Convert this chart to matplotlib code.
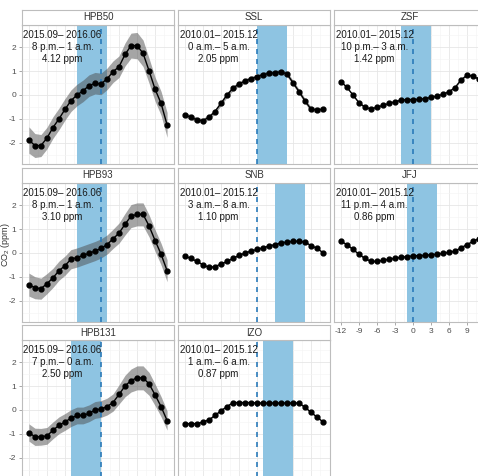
import numpy as np
import matplotlib
matplotlib.use('Agg')
from matplotlib import pyplot as plt
from matplotlib.ticker import MultipleLocator, FixedLocator

plt.rcParams['font.family'] = ['Liberation Sans', 'DejaVu Sans']
plt.rcParams['mathtext.fontset'] = 'custom'
plt.rcParams['mathtext.rm'] = 'Liberation Sans'
plt.rcParams['axes.unicode_minus'] = False

hours = np.arange(-12, 12)

# mean diurnal anomalies (ppm), hour -12 .. 11
hpb50 = [-1.88, -2.11, -2.11, -1.80, -1.36, -1.00, -0.60, -0.24, 0.00, 0.17, 0.39, 0.49,
         0.46, 0.67, 0.97, 1.18, 1.69, 2.06, 2.06, 1.74, 1.01, 0.24, -0.35, -1.25]
ssl = [-0.83, -0.93, -1.04, -1.07, -0.93, -0.69, -0.35, 0.00, 0.28, 0.46, 0.58, 0.68,
       0.76, 0.85, 0.90, 0.93, 0.97, 0.87, 0.51, 0.14, -0.25, -0.60, -0.62, -0.60]
zsf = [0.56, 0.32, 0.00, -0.32, -0.51, -0.58, -0.51, -0.43, -0.35, -0.28, -0.22, -0.19,
       -0.19, -0.18, -0.15, -0.10, -0.04, 0.03, 0.14, 0.31, 0.63, 0.83, 0.79, 0.65]
hpb93 = [-1.32, -1.45, -1.49, -1.28, -1.04, -0.74, -0.53, -0.26, -0.19, -0.10, -0.01, 0.08,
         0.19, 0.35, 0.59, 0.83, 1.20, 1.54, 1.61, 1.61, 1.13, 0.52, -0.05, -0.74]
snb = [-0.12, -0.23, -0.35, -0.49, -0.60, -0.57, -0.46, -0.35, -0.22, -0.10, 0.00, 0.08,
       0.15, 0.22, 0.29, 0.35, 0.42, 0.46, 0.49, 0.49, 0.45, 0.31, 0.19, 0.01]
jfj = [0.49, 0.35, 0.15, -0.05, -0.23, -0.35, -0.35, -0.30, -0.26, -0.22, -0.18, -0.15,
       -0.12, -0.11, -0.10, -0.07, -0.05, -0.01, 0.03, 0.08, 0.22, 0.35, 0.49, 0.60]
hpb131 = [-0.94, -1.12, -1.12, -1.08, -0.85, -0.64, -0.50, -0.34, -0.23, -0.23, -0.14, 0.00,
          0.04, 0.14, 0.31, 0.65, 1.00, 1.23, 1.34, 1.34, 1.09, 0.63, 0.14, -0.44]
izo = [-0.57, -0.57, -0.57, -0.50, -0.41, -0.23, -0.03, 0.14, 0.31, 0.31, 0.31, 0.31,
       0.29, 0.29, 0.29, 0.29, 0.29, 0.29, 0.29, 0.29, 0.11, -0.10, -0.30, -0.50]

# half width of the uncertainty ribbon
se_hpb50 = [0.55, 0.50, 0.46, 0.45, 0.45, 0.45, 0.45, 0.45, 0.45, 0.45, 0.45, 0.45,
            0.45, 0.45, 0.45, 0.45, 0.48, 0.52, 0.55, 0.55, 0.52, 0.50, 0.50, 0.52]
se_ssl = [0.10, 0.10, 0.10, 0.10, 0.10, 0.10, 0.10, 0.10, 0.10, 0.10, 0.10, 0.10,
          0.10, 0.10, 0.10, 0.10, 0.10, 0.10, 0.10, 0.10, 0.10, 0.10, 0.10, 0.10]
se_hpb93 = [0.48, 0.46, 0.44, 0.42, 0.40, 0.40, 0.40, 0.40, 0.40, 0.40, 0.40, 0.40,
            0.40, 0.40, 0.40, 0.42, 0.45, 0.48, 0.48, 0.48, 0.46, 0.45, 0.45, 0.46]
se_hpb131 = [0.36, 0.36, 0.35, 0.35, 0.35, 0.35, 0.35, 0.35, 0.35, 0.35, 0.35, 0.35,
             0.35, 0.35, 0.36, 0.40, 0.45, 0.48, 0.50, 0.50, 0.48, 0.45, 0.42, 0.40]
se_small = [0.03, 0.03, 0.03, 0.03, 0.03, 0.03, 0.03, 0.03, 0.03, 0.03, 0.03, 0.03,
            0.03, 0.03, 0.03, 0.03, 0.03, 0.03, 0.03, 0.03, 0.03, 0.03, 0.03, 0.03]

sites = ['HPB50', 'SSL', 'ZSF', 'HPB93', 'SNB', 'JFJ', 'HPB131', 'IZO']
series = [hpb50, ssl, zsf, hpb93, snb, jfj, hpb131, izo]
ribbons = [se_hpb50, se_ssl, se_small, se_hpb93, se_small, se_small, se_hpb131, se_small]
periods = ['2015.09– 2016.06', '2010.01– 2015.12', '2010.01– 2015.12',
           '2015.09– 2016.06', '2010.01– 2015.12', '2010.01– 2015.12',
           '2015.09– 2016.06', '2010.01– 2015.12']
windows = ['8 p.m.– 1 a.m.', '0 a.m.– 5 a.m.', '10 p.m.– 3 a.m.',
           '8 p.m.– 1 a.m.', '3 a.m.– 8 a.m.', '11 p.m.– 4 a.m.',
           '7 p.m.– 0 a.m.', '1 a.m.– 6 a.m.']
amplitudes = ['4.12 ppm', '2.05 ppm', '1.42 ppm', '3.10 ppm',
              '1.10 ppm', '0.86 ppm', '2.50 ppm', '0.87 ppm']
band_start = [-4, 0, -2, -4, 3, -1, -5, 1]
band_end = [1, 5, 3, 1, 8, 4, 0, 6]
x_ticks = [-12, -9, -6, -3, 0, 3, 6, 9]

W, H = 478, 476
col_left = [22, 178, 334]
panel_top = [25, 183, 340]
pw, ph, sh = 152, 139, 15


def rect(x, y, w, h):
    return [x / W, 1 - (y + h) / H, w / W, h / H]


fig = plt.figure(figsize=(W / 100, H / 100), dpi=100)

for i, site in enumerate(sites):
    r, c = divmod(i, 3)
    ax = fig.add_axes(rect(col_left[c], panel_top[r], pw, ph))
    ax.set_xlim(-13.15, 12.15)
    ax.set_ylim(-2.88, 2.92)
    ax.xaxis.set_major_locator(FixedLocator(x_ticks))
    ax.xaxis.set_minor_locator(FixedLocator([t + 1.5 for t in x_ticks]))
    ax.yaxis.set_major_locator(MultipleLocator(1))
    ax.yaxis.set_minor_locator(MultipleLocator(0.5))
    ax.grid(which='major', color='#E6E6E6', lw=0.6)
    ax.grid(which='minor', color='#F3F3F3', lw=0.4)
    ax.set_axisbelow(True)
    for s in ax.spines.values():
        s.set_color('#BDBDBD')
        s.set_linewidth(0.8)

    y = np.array(series[i])
    se = np.array(ribbons[i])
    ax.axvspan(band_start[i], band_end[i], color='#8EC4E2', lw=0, zorder=1)
    ax.fill_between(hours, y - se, y + se, color='#4D4D4D', alpha=0.5, lw=0, zorder=2)
    ax.axvline(0, color='#2B7BBA', ls=(0, (3, 3)), lw=1.2, zorder=3)
    ax.plot(hours, y, color='black', lw=1.0, marker='o', ms=3.5, zorder=4)
    ax.text(-6.4, 2.0, '\n'.join([periods[i], windows[i], amplitudes[i]]),
            ha='center', va='center', fontsize=7, color='#1A1A1A',
            linespacing=1.3, zorder=5)

    # the bottom row runs off the lower edge, so only JFJ shows its hour labels
    show_left = c == 0
    show_bottom = r == 1 and c == 2
    ax.tick_params(which='both', length=0)
    ax.tick_params(which='major', labelsize=6, labelcolor='#4D4D4D', color='#9A9A9A',
                   width=0.6, pad=1.5)
    ax.tick_params(axis='y', which='major', left=show_left, labelleft=show_left, length=2.5)
    ax.tick_params(axis='x', which='major', bottom=show_bottom, labelbottom=show_bottom,
                   length=2.5)

    sax = fig.add_axes(rect(col_left[c], panel_top[r] - sh, pw, sh))
    sax.set_xticks([])
    sax.set_yticks([])
    for s in sax.spines.values():
        s.set_color('#BDBDBD')
        s.set_linewidth(0.8)
    sax.text(0.5, 0.5, site, ha='center', va='center', fontsize=7, color='#333333',
             transform=sax.transAxes)

fig.text(6 / W, 1 - 245 / H, 'CO$_2$ (ppm)', rotation=90, ha='center', va='center',
         fontsize=6.5, color='#333333')

fig.savefig('out.png', dpi=100)
